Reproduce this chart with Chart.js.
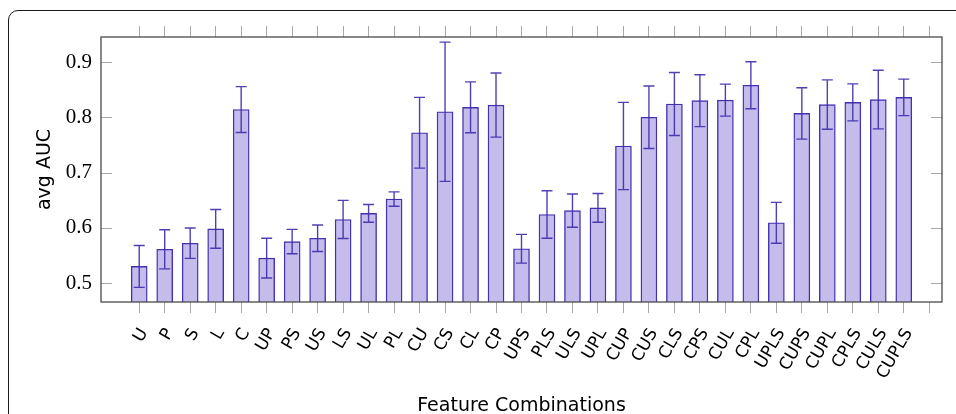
<!DOCTYPE html>
<html>
<head>
<meta charset="utf-8">
<script src="https://cdn.jsdelivr.net/npm/chart.js@4"></script>
<style>
  html, body { margin: 0; padding: 0; background: #fff; width: 956px; height: 414px; overflow: hidden; }
  #frame { position: absolute; left: 8px; top: 10px; width: 1000px; height: 500px; border: 1.5px solid #1a1a1a; border-radius: 10px; box-sizing: border-box; pointer-events: none; }
  #wrap { position: absolute; left: 0; top: 0; width: 956px; height: 414px; }
</style>
</head>
<body>
<div id="frame"></div>
<div id="wrap"><canvas id="c" width="956" height="414"></canvas></div>
<script>
const categories = ['U','P','S','L','C','UP','PS','US','LS','UL','PL','CU','CS','CL','CP','UPS','PLS','ULS','UPL','CUP','CUS','CLS','CPS','CUL','CPL','UPLS','CUPS','CUPL','CPLS','CULS','CUPLS'];
const avgAUC = [0.530,0.561,0.572,0.598,0.814,0.545,0.575,0.581,0.615,0.626,0.652,0.772,0.810,0.818,0.822,0.562,0.624,0.631,0.636,0.748,0.800,0.824,0.830,0.831,0.858,0.609,0.807,0.823,0.827,0.832,0.836];
const stdAUC = [0.038,0.0355,0.0275,0.035,0.0415,0.036,0.022,0.024,0.0345,0.016,0.013,0.064,0.126,0.046,0.058,0.026,0.043,0.030,0.026,0.079,0.0565,0.057,0.047,0.029,0.0426,0.037,0.0465,0.0447,0.0335,0.053,0.033];
const xTickLabels = categories.concat(['']);
const yTickValues = [0.5, 0.6, 0.7, 0.8, 0.9];
const yMin = 0.4656, yMax = 0.9453;
const xMin = -1.5, xMax = 31.5;

const barFill = 'rgba(197,188,236,1)';
const barEdge = 'rgb(66,50,176)';
const tickGray = '#a8a8a8';

const setXTicks = s => { s.ticks = xTickLabels.map((_, i) => ({ value: i })); };

const frameAndTicks = {
  id: 'frameAndTicks',
  afterDatasetsDraw(chart) {
    const { ctx, chartArea: a, scales } = chart;
    const y = scales.y;
    ctx.save();
    // error bars
    const xs = scales.x;
    ctx.strokeStyle = 'rgba(60,44,172,0.9)';
    ctx.lineWidth = 1.4;
    avgAUC.forEach((m, i) => {
      const px = xs.getPixelForValue(i);
      const t = y.getPixelForValue(m + stdAUC[i]);
      const b = y.getPixelForValue(m - stdAUC[i]);
      ctx.beginPath();
      ctx.moveTo(px, t); ctx.lineTo(px, b);
      ctx.moveTo(px - 5.5, t); ctx.lineTo(px + 5.5, t);
      ctx.moveTo(px - 5.5, b); ctx.lineTo(px + 5.5, b);
      ctx.stroke();
    });
    // inward y ticks
    ctx.strokeStyle = tickGray;
    ctx.lineWidth = 1;
    y.ticks.forEach(t => {
      const py = Math.round(y.getPixelForValue(t.value)) + 0.5;
      ctx.beginPath();
      ctx.moveTo(a.left, py); ctx.lineTo(a.left + 11, py);
      ctx.moveTo(a.right - 11, py); ctx.lineTo(a.right, py);
      ctx.stroke();
    });
    // frame
    ctx.strokeStyle = '#4a4a4a';
    ctx.lineWidth = 1.3;
    ctx.strokeRect(a.left, a.top, a.right - a.left, a.bottom - a.top);
    ctx.restore();
  }
};

new Chart(document.getElementById('c'), {
  type: 'bar',
  data: {
    datasets: [{
      label: 'avg AUC',
      data: avgAUC.map((v, i) => ({ x: i, y: v })),
      backgroundColor: barFill,
      borderColor: barEdge,
      borderWidth: 1.4,
      barThickness: 16
    }]
  },
  options: {
    responsive: false,
    animation: false,
    events: [],
    layout: { padding: { left: 0, right: 14, top: 26, bottom: 0 } },
    plugins: { legend: { display: false }, tooltip: { enabled: false } },
    scales: {
      x: {
        type: 'linear',
        position: 'bottom',
        offset: false,
        min: xMin, max: xMax,
        afterBuildTicks: setXTicks,
        afterFit: s => { s.height = 112; s.paddingLeft = 0; s.paddingRight = 0; },
        grid: { offset: false, drawOnChartArea: false, drawTicks: true, tickLength: 11, color: tickGray, tickColor: tickGray, lineWidth: 1 },
        border: { display: false },
        ticks: {
          autoSkip: false,
          minRotation: 60, maxRotation: 60,
          padding: 12,
          labelOffset: 5,
          color: '#000',
          font: { family: 'DejaVu Sans', size: 17 },
          callback: v => xTickLabels[v] ?? ''
        },
        title: {
          display: true,
          text: 'Feature Combinations',
          color: '#000',
          font: { family: 'DejaVu Sans', size: 19, lineHeight: 0.8 },
          padding: { top: 0, bottom: 0 }
        }
      },
      x2: {
        type: 'linear',
        position: 'top',
        offset: false,
        min: xMin, max: xMax,
        afterBuildTicks: setXTicks,
        afterFit: s => { s.paddingLeft = 0; s.paddingRight = 0; },
        grid: { offset: false, drawOnChartArea: false, drawTicks: true, tickLength: 11, color: tickGray, tickColor: tickGray, lineWidth: 1 },
        border: { display: false },
        ticks: { display: false }
      },
      y: {
        type: 'linear',
        min: yMin, max: yMax,
        afterBuildTicks: s => { s.ticks = yTickValues.map(v => ({ value: v })); },
        afterFit: s => { s.width = 101; },
        grid: { display: false, drawTicks: false },
        border: { display: false },
        ticks: {
          padding: 9,
          color: '#000',
          font: { family: 'Liberation Serif', size: 21 },
          callback: v => v.toFixed(1)
        },
        title: {
          display: true,
          text: 'avg AUC',
          color: '#000',
          font: { family: 'DejaVu Sans', size: 19, lineHeight: 1.2 },
          padding: { top: 34, bottom: 0 }
        }
      }
    }
  },
  plugins: [frameAndTicks]
});
</script>
</body>
</html>
